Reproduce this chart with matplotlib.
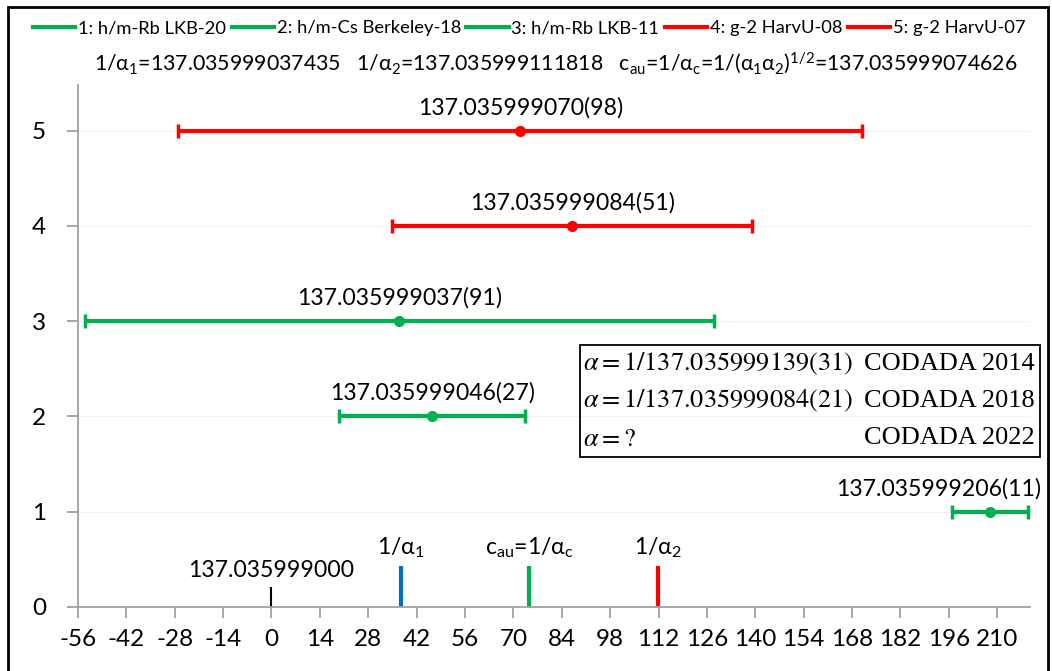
import matplotlib
matplotlib.use('Agg')
import matplotlib.pyplot as plt
from matplotlib.lines import Line2D
from matplotlib.patches import Rectangle

plt.rcParams['font.family'] = ['Lato', 'DejaVu Sans']
plt.rcParams['mathtext.fontset'] = 'custom'
plt.rcParams['mathtext.rm'] = 'Lato'
plt.rcParams['mathtext.it'] = 'Lato'
plt.rcParams['mathtext.bf'] = 'Lato:bold'
plt.rcParams['axes.unicode_minus'] = False

# measurements, x = (1/alpha - 137.035999000) * 1e9
series = ['1: h/m-Rb LKB-20', '2: h/m-Cs Berkeley-18', '3: h/m-Rb LKB-11',
          '4: g-2 HarvU-08', '5: g-2 HarvU-07']
y_pos = [1, 2, 3, 4, 5]
x_val = [208, 46.5, 37, 87, 72]
x_err = [11, 27, 91, 52, 99]
val_text = ['137.035999206(11)', '137.035999046(27)', '137.035999037(91)',
            '137.035999084(51)', '137.035999070(98)']

# reference markers on the axis
ref_x = [0, 37.435, 74.626, 111.818]
ref_h = [0.21, 0.43, 0.43, 0.43]
ref_lbl = ['137.035999000', r'1/α$_1$', r'c$_{au}$=1/α$_c$', r'1/α$_2$']

x_ticks = list(range(-56, 211, 14))
y_ticks = [0, 1, 2, 3, 4, 5]

# CODATA box rows
codata_val = [r'$\alpha=1/137.035999139(31)$', r'$\alpha=1/137.035999084(21)$', r'$\alpha=?$']
codata_lbl = ['CODADA 2014', 'CODADA 2018', 'CODADA 2022']

GREEN = '#00B050'
RED = '#FF0000'
BLUE = '#0070C0'
colors = [GREEN, GREEN, GREEN, RED, RED]
ref_colors = ['black', BLUE, GREEN, RED]
ref_lw = [1.5, 3, 3, 3]

fig = plt.figure(figsize=(10.52, 6.71), dpi=100)
ax = fig.add_axes([0.0741, 0.0954, 0.905, 0.778])

for i in range(len(series)):
    ax.errorbar(x_val[i], y_pos[i], xerr=x_err[i], fmt='o', color=colors[i],
                ms=7, elinewidth=3, capsize=5, capthick=2.5)
    lx = 193 if i == 0 else x_val[i]
    ax.text(lx, y_pos[i] + 0.13, val_text[i], ha='center', va='bottom', fontsize=16.6)

for i in range(len(ref_x)):
    ax.plot([ref_x[i], ref_x[i]], [0, ref_h[i]], color=ref_colors[i], lw=ref_lw[i],
            solid_capstyle='butt')
    ax.text(ref_x[i], ref_h[i] + 0.06, ref_lbl[i], ha='center', va='bottom', fontsize=16.6)

ax.set_xlim(-56, 219.5)
ax.set_ylim(0, 5.48)
ax.set_xticks(x_ticks)
ax.set_yticks(y_ticks)
ax.tick_params(axis='both', labelsize=17.5, color='#A0A0A0', length=8, width=1.3)
ax.tick_params(axis='y', pad=15)
ax.tick_params(axis='x', pad=8)
for s in ['top', 'right']:
    ax.spines[s].set_visible(False)
for s in ['left', 'bottom']:
    ax.spines[s].set_color('#A0A0A0')
    ax.spines[s].set_linewidth(1.3)
for yy in y_ticks[1:]:
    ax.axhline(yy, color='#F2F2F2', lw=0.8, zorder=0)

# CODATA box
bx0, bx1, by0, by1 = 0.5514, 0.9886, 0.3189, 0.4858
fig.patches.append(Rectangle((bx0, by0), bx1 - bx0, by1 - by0, transform=fig.transFigure,
                             fill=False, edgecolor='black', lw=1.3))
for k in range(len(codata_val)):
    yy = by1 - (k + 0.5) * (by1 - by0) / 3
    fig.text(bx0 + 0.003, yy, codata_val[k], fontsize=19, va='center', ha='left',
             math_fontfamily='stix')
    fig.text(bx1 - 0.005, yy, codata_lbl[k], fontsize=19, va='center', ha='right',
             family='Liberation Serif')

# legend and header line
handles = [Line2D([0], [0], color=c, lw=3) for c in colors]
fig.legend(handles, series, loc='center', bbox_to_anchor=(0.503, 0.958), ncol=5,
           frameon=False, fontsize=13.2, handlelength=2.3, handletextpad=0.15,
           columnspacing=0.3, borderaxespad=0)
fig.text(0.528, 0.906, r'1/α$_1$=137.035999037435   1/α$_2$=137.035999111818   '
         r'c$_{au}$=1/α$_c$=1/(α$_1$α$_2$)$^{1/2}$=137.035999074626',
         ha='center', va='center', fontsize=15.3)

# outer frame
fig.patches.append(Rectangle((8 / 1052, -0.01), 1040 / 1052, 1.0 - 7 / 671 + 0.01,
                             transform=fig.transFigure, fill=False, edgecolor='black', lw=2))

fig.savefig('out.png', dpi=100)
